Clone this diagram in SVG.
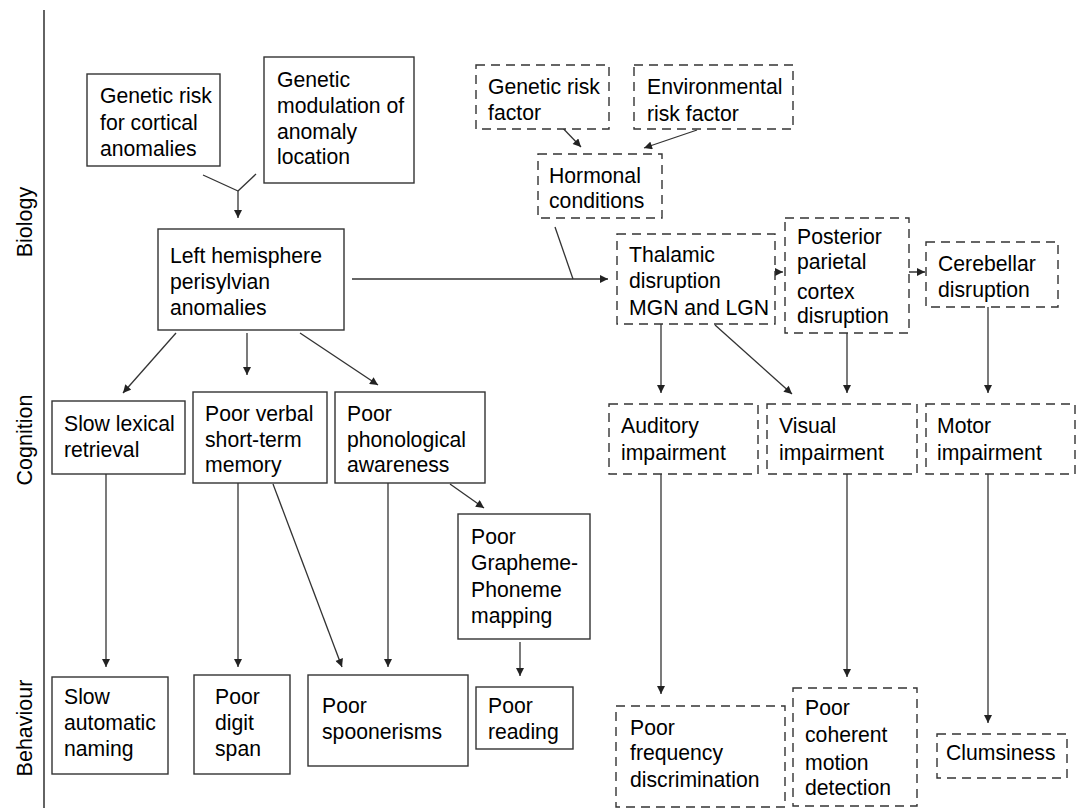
<svg xmlns="http://www.w3.org/2000/svg" width="1077" height="808" viewBox="0 0 1077 808">
<style>
.box{fill:#fff;stroke:#333;stroke-width:1.4}
.dash{fill:#fff;stroke:#333;stroke-width:1.4;stroke-dasharray:9 6}
.t{font-family:"Liberation Sans",Arial,sans-serif;font-size:21.2px;fill:#000}
.ax{font-family:"Liberation Sans",Arial,sans-serif;font-size:21.5px;fill:#000;text-anchor:middle}
.c{stroke:#333;stroke-width:1.3;fill:none}
.a{stroke:#333;stroke-width:1.3;fill:none;marker-end:url(#arr)}
</style>
<defs>
<marker id="arr" viewBox="0 0 10 10" refX="10" refY="5" markerWidth="9" markerHeight="8" markerUnits="userSpaceOnUse" orient="auto">
<path d="M0,0 L10,5 L0,10 z" fill="#222"/>
</marker>
</defs>
<rect width="1077" height="808" fill="#fff"/>
<g id="axis">
<line x1="44" y1="10" x2="44" y2="808" stroke="#222" stroke-width="1.4"/>
<text class="ax" transform="translate(32,222) rotate(-90)">Biology</text>
<text class="ax" transform="translate(32,440) rotate(-90)">Cognition</text>
<text class="ax" transform="translate(32,728) rotate(-90)">Behaviour</text>
</g>
<g id="connectors">
<line class="c" x1="203" y1="175" x2="238" y2="191"/>
<line class="c" x1="256" y1="174" x2="238" y2="191"/>
<line class="a" x1="238" y1="191" x2="238" y2="218"/>
<line class="a" x1="555" y1="120" x2="581" y2="147"/>
<line class="a" x1="697" y1="130" x2="644" y2="148"/>
<line class="c" x1="555" y1="227" x2="573" y2="279"/>
<line class="a" x1="352" y1="279" x2="608" y2="279"/>
<line class="a" x1="758" y1="272" x2="783" y2="272"/>
<line class="a" x1="889" y1="272" x2="925" y2="272"/>
<line class="a" x1="176" y1="333" x2="123" y2="393"/>
<line class="a" x1="247" y1="333" x2="247" y2="375"/>
<line class="a" x1="300" y1="333" x2="378" y2="385"/>
<line class="a" x1="450" y1="484" x2="484" y2="508"/>
<line class="a" x1="106" y1="474" x2="106" y2="667"/>
<line class="a" x1="238" y1="483" x2="238" y2="667"/>
<line class="a" x1="273" y1="484" x2="342" y2="667"/>
<line class="a" x1="388" y1="483" x2="388" y2="667"/>
<line class="a" x1="520" y1="642" x2="520" y2="676"/>
<line class="a" x1="661" y1="324" x2="661" y2="393"/>
<line class="a" x1="715" y1="325" x2="792" y2="394"/>
<line class="a" x1="847" y1="333" x2="847" y2="393"/>
<line class="a" x1="988" y1="307" x2="988" y2="393"/>
<line class="a" x1="661" y1="474" x2="661" y2="694"/>
<line class="a" x1="847" y1="474" x2="847" y2="677"/>
<line class="a" x1="988" y1="474" x2="988" y2="723"/>
</g>
<g id="n_grc"><rect class="box" x="87" y="74" width="133" height="92"/><text class="t"><tspan x="100" y="103">Genetic risk</tspan><tspan x="100" y="130">for cortical</tspan><tspan x="100" y="156">anomalies</tspan></text></g>
<g id="n_gmod"><rect class="box" x="264" y="57" width="150" height="126"/><text class="t"><tspan x="277" y="87">Genetic</tspan><tspan x="277" y="113">modulation of</tspan><tspan x="277" y="139">anomaly</tspan><tspan x="277" y="164">location</tspan></text></g>
<g id="n_lh"><rect class="box" x="158" y="229" width="186" height="101"/><text class="t"><tspan x="170" y="263">Left hemisphere</tspan><tspan x="170" y="289">perisylvian</tspan><tspan x="170" y="315">anomalies</tspan></text></g>
<g id="n_grf"><rect class="dash" x="476" y="65" width="133" height="64"/><text class="t"><tspan x="488" y="94">Genetic risk</tspan><tspan x="488" y="120">factor</tspan></text></g>
<g id="n_erf"><rect class="dash" x="634" y="65" width="159" height="64"/><text class="t"><tspan x="647" y="94">Environmental</tspan><tspan x="647" y="121">risk factor</tspan></text></g>
<g id="n_hc"><rect class="dash" x="538" y="154" width="124" height="64"/><text class="t"><tspan x="549" y="183">Hormonal</tspan><tspan x="549" y="208">conditions</tspan></text></g>
<g id="n_th"><rect class="dash" x="617" y="234" width="158" height="90"/><text class="t"><tspan x="629" y="262">Thalamic</tspan><tspan x="629" y="288">disruption</tspan><tspan x="629" y="315">MGN and LGN</tspan></text></g>
<g id="n_pp"><rect class="dash" x="785" y="218" width="124" height="115"/><text class="t"><tspan x="797" y="244">Posterior</tspan><tspan x="797" y="269">parietal</tspan><tspan x="797" y="299">cortex</tspan><tspan x="797" y="323">disruption</tspan></text></g>
<g id="n_cb"><rect class="dash" x="926" y="242" width="132" height="65"/><text class="t"><tspan x="938" y="271">Cerebellar</tspan><tspan x="938" y="297">disruption</tspan></text></g>
<g id="n_slr"><rect class="box" x="52" y="401" width="133" height="73"/><text class="t"><tspan x="64" y="431">Slow lexical</tspan><tspan x="64" y="457">retrieval</tspan></text></g>
<g id="n_pv"><rect class="box" x="193" y="392" width="134" height="91"/><text class="t"><tspan x="205" y="421">Poor verbal</tspan><tspan x="205" y="447">short-term</tspan><tspan x="205" y="472">memory</tspan></text></g>
<g id="n_pa"><rect class="box" x="335" y="392" width="150" height="91"/><text class="t"><tspan x="347" y="421">Poor</tspan><tspan x="347" y="447">phonological</tspan><tspan x="347" y="472">awareness</tspan></text></g>
<g id="n_gp"><rect class="box" x="458" y="514" width="132" height="125"/><text class="t"><tspan x="471" y="544">Poor</tspan><tspan x="471" y="570">Grapheme-</tspan><tspan x="471" y="597">Phoneme</tspan><tspan x="471" y="623">mapping</tspan></text></g>
<g id="n_aud"><rect class="dash" x="609" y="404" width="149" height="70"/><text class="t"><tspan x="621" y="433">Auditory</tspan><tspan x="621" y="460">impairment</tspan></text></g>
<g id="n_vis"><rect class="dash" x="767" y="404" width="150" height="70"/><text class="t"><tspan x="779" y="433">Visual</tspan><tspan x="779" y="460">impairment</tspan></text></g>
<g id="n_mot"><rect class="dash" x="926" y="404" width="149" height="70"/><text class="t"><tspan x="937" y="433">Motor</tspan><tspan x="937" y="460">impairment</tspan></text></g>
<g id="n_san"><rect class="box" x="52" y="677" width="116" height="97"/><text class="t"><tspan x="64" y="704">Slow</tspan><tspan x="64" y="730">automatic</tspan><tspan x="64" y="756">naming</tspan></text></g>
<g id="n_pds"><rect class="box" x="194" y="675" width="96" height="99"/><text class="t"><tspan x="215" y="704">Poor</tspan><tspan x="215" y="730">digit</tspan><tspan x="215" y="756">span</tspan></text></g>
<g id="n_psp"><rect class="box" x="308" y="675" width="160" height="91"/><text class="t"><tspan x="322" y="713">Poor</tspan><tspan x="322" y="739">spoonerisms</tspan></text></g>
<g id="n_pr"><rect class="box" x="476" y="687" width="97" height="62"/><text class="t"><tspan x="488" y="713">Poor</tspan><tspan x="488" y="739">reading</tspan></text></g>
<g id="n_pfd"><rect class="dash" x="616" y="706" width="169" height="101"/><text class="t"><tspan x="630" y="735">Poor</tspan><tspan x="630" y="760">frequency</tspan><tspan x="630" y="787">discrimination</tspan></text></g>
<g id="n_pcm"><rect class="dash" x="793" y="688" width="124" height="118"/><text class="t"><tspan x="805" y="715">Poor</tspan><tspan x="805" y="742">coherent</tspan><tspan x="805" y="770">motion</tspan><tspan x="805" y="795">detection</tspan></text></g>
<g id="n_clu"><rect class="dash" x="937" y="734" width="130" height="44"/><text class="t"><tspan x="946" y="760">Clumsiness</tspan></text></g>
</svg>
